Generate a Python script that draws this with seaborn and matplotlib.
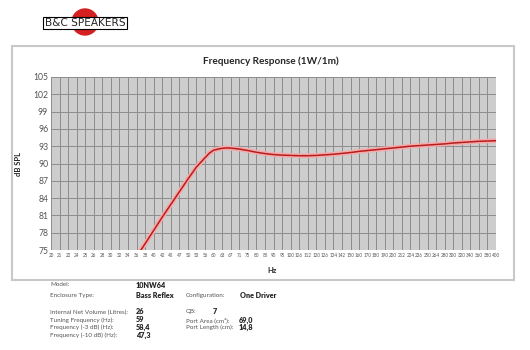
import numpy as np
import pandas as pd
import matplotlib
matplotlib.use('Agg')
import matplotlib.pyplot as plt
from matplotlib.patches import Rectangle, Ellipse
import seaborn as sns

# x axis categories (Hz), equally spaced on the chart
hz_ticks = [20, 21, 22, 24, 25, 26, 28, 30, 32, 34, 36, 38, 40, 42, 45, 47, 50, 53, 56,
            60, 63, 67, 71, 75, 80, 85, 90, 95, 100, 106, 112, 120, 126, 134, 142, 150,
            160, 170, 180, 190, 200, 212, 224, 236, 250, 264, 280, 300, 320, 340, 360,
            380, 400]
db_ticks = [75, 78, 81, 84, 87, 90, 93, 96, 99, 102, 105]

# response curve
curve_hz = [37, 38, 40, 42, 45, 47, 50, 53, 56, 58, 60, 62, 63, 65, 67, 71, 75, 80, 85,
            90, 95, 100, 106, 112, 120, 126, 134, 142, 150, 160, 170, 180, 190, 200, 212,
            224, 236, 250, 264, 280, 300, 320, 340, 360, 380, 400]
curve_db = [75.0, 76.1, 78.4, 80.7, 82.9, 85.1, 87.3, 89.4, 91.0, 91.8, 92.3, 92.55,
            92.63, 92.7, 92.68, 92.5, 92.25, 91.95, 91.72, 91.55, 91.45, 91.4, 91.35,
            91.35, 91.4, 91.5, 91.6, 91.75, 91.9, 92.1, 92.25, 92.4, 92.55, 92.7, 92.85,
            93.0, 93.1, 93.2, 93.3, 93.4, 93.55, 93.65, 93.75, 93.85, 93.9, 93.95]

spec_labels = ["Model:", "Enclosure Type:", "Internal Net Volume (Litres):",
               "Tuning Frequency (Hz):", "Frequency (-3 dB) (Hz):", "Frequency (-10 dB) (Hz):"]
spec_values = ["10NW64", "Bass Reflex", "26", "59", "58,4", "47,3"]
spec2_labels = ["Configuration:", "QB:", "Port Area (cm²):", "Port Length (cm):"]
spec2_values = ["One Driver", "7", "69,0", "14,8"]

sns.set_style("white")
plt.rcParams['font.family'] = ['Lato', 'DejaVu Sans']

# place the curve on the category axis (log interpolation between ticks)
pos = np.interp(np.log(curve_hz), np.log(hz_ticks), np.arange(len(hz_ticks)))
df = pd.DataFrame({"pos": pos, "db": curve_db})

fig = plt.figure(figsize=(5.3, 3.5), dpi=100)
ax = fig.add_axes([51 / 530, 1 - 250 / 350, 445 / 530, 173 / 350])
ax.set_facecolor("#cdcdcd")

sns.lineplot(data=df, x="pos", y="db", ax=ax, color="#f3aaaa", lw=3.4, zorder=3)
sns.lineplot(data=df, x="pos", y="db", ax=ax, color="#b81c1c", lw=1.1, zorder=4)

ax.set_xlim(0, len(hz_ticks) - 1)
ax.set_ylim(75, 105)
ax.set_xticks(np.arange(len(hz_ticks)))
ax.set_xticklabels([str(h) for h in hz_ticks], fontsize=3.3, color="#555555")
ax.set_yticks(db_ticks)
ax.set_yticklabels([str(d) for d in db_ticks], fontsize=6.2, color="#555555")
ax.tick_params(axis="both", length=0, pad=2)
ax.grid(True, color="#8c8c8c", lw=0.7)
ax.set_axisbelow(True)
for s in ax.spines.values():
    s.set_visible(False)
ax.set_xlabel("Hz", fontsize=5.5, fontweight="bold", labelpad=0)
ax.xaxis.set_label_coords((272 - 51) / 445, -0.1)
ax.set_ylabel("dB SPL", fontsize=5.5, fontweight="bold")
ax.yaxis.set_label_coords(-(51 - 22) / 445, 0.5)

fig.text(271 / 530, 1 - 61 / 350, "Frequency Response (1W/1m)", fontsize=7.2,
         fontweight="bold", ha="center", va="center")

# frame around the chart
fig.add_artist(Rectangle((12 / 530, 1 - 280 / 350), 502 / 530, 234 / 350,
                         transform=fig.transFigure, fill=False,
                         edgecolor="#c8c8c8", lw=1.5))

# logo
fig.add_artist(Ellipse((85 / 530, 1 - 22 / 350), 26 / 530, 26 / 350,
                       transform=fig.transFigure, color="#d42020"))
fig.text(85 / 530, 1 - 23 / 350, "B&C SPEAKERS", fontsize=7.6,
         family=['Liberation Sans Narrow', 'DejaVu Sans'], ha="center", va="center",
         bbox=dict(boxstyle="square,pad=0.12", fc="white", ec="black", lw=0.8))

# spec table
rows_y = [285, 296, 312, 320, 327, 335]
for lab, val, y in zip(spec_labels, spec_values, rows_y):
    fig.text(50 / 530, 1 - y / 350, lab, fontsize=4.5, color="#555555", va="center")
    fig.text(136 / 530, 1 - y / 350, val, fontsize=5.2, fontweight="heavy", va="center")
rows2_y = [296, 312, 320, 327]
vals2_x = [240, 213, 239, 239]
for lab, val, y, vx in zip(spec2_labels, spec2_values, rows2_y, vals2_x):
    fig.text(186 / 530, 1 - y / 350, lab, fontsize=4.5, color="#555555", va="center")
    fig.text(vx / 530, 1 - y / 350, val, fontsize=5.2, fontweight="heavy", va="center")

fig.savefig("out.png", dpi=100)
